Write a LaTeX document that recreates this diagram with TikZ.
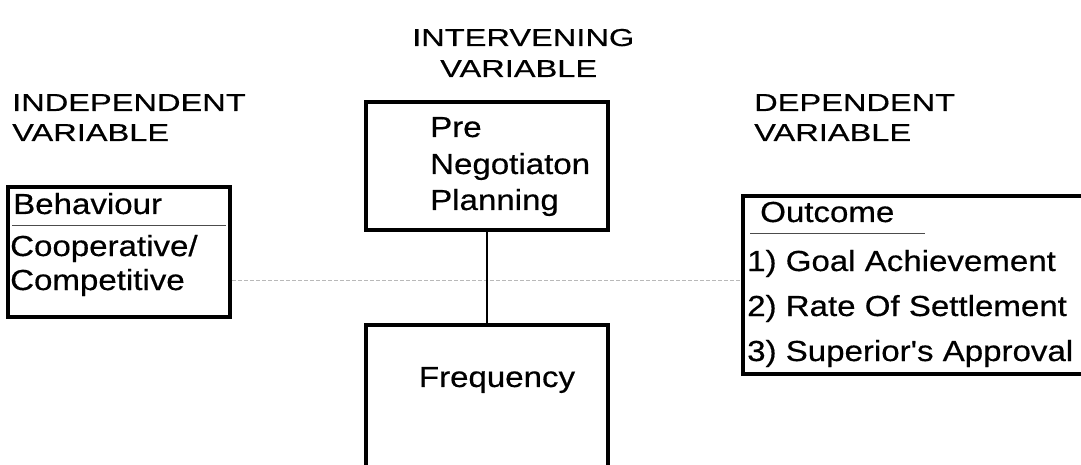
\documentclass[tikz,border=0pt]{standalone}
\usepackage{fontspec}
\setmainfont{Liberation Sans}
\newfontfamily\hdrfont[FakeStretch=1.33,FakeBold=0.4]{Liberation Sans}
\newfontfamily\bodyfont[FakeStretch=1.14,FakeBold=0.5]{Liberation Sans}
\begin{document}
\begin{tikzpicture}[x=1pt,y=-1pt,
  box/.style={draw, line width=3.5pt, inner sep=0pt},
  hdr/.style={font=\hdrfont\fontsize{24.5}{24.5}\selectfont, anchor=base west, inner sep=0pt},
  txt/.style={font=\bodyfont\fontsize{29}{29}\selectfont, anchor=base west, inner sep=0pt},
  conn/.style={line width=1.6pt},
  dotconn/.style={line width=1pt, gray!55, dash pattern=on 4pt off 2pt},
  rule/.style={line width=1pt, gray!60!black}]
\useasboundingbox (0,0) rectangle (1081,465);
\clip (0,0) rectangle (1081,465);
% headers
\node[hdr] (h1a) at (12,111) {INDEPENDENT};
\node[hdr] (h1b) at (12,141) {VARIABLE};
\node[hdr] (h2a) at (412,46) {INTERVENING};
\node[hdr] (h2b) at (440,77) {VARIABLE};
\node[hdr] (h3a) at (754,111) {DEPENDENT};
\node[hdr] (h3b) at (754,141) {VARIABLE};
% boxes
\node[box, minimum width=222pt, minimum height=130pt] (ind) at (119,252) {};
\node[box, minimum width=242pt, minimum height=128pt] (pre) at (487,166) {};
\node[box, minimum width=242pt, minimum height=200pt] (freq) at (487,425) {};
\node[box, minimum width=360pt, minimum height=178pt] (dep) at (923,285) {};
% texts
\node[txt] (t1) at (13,214) {Behaviour};
\draw[rule] (12,225) -- (226,225);
\node[txt] (t2) at (10,256) {Cooperative/};
\node[txt] (t3) at (10,290) {Competitive};
\node[txt] (t4) at (430,137) {Pre};
\node[txt] (t5) at (430,174) {Negotiaton};
\node[txt] (t6) at (430,210) {Planning};
\node[txt, anchor=center] (t7) at (497,380) {Frequency};
\node[txt] (t8) at (760,222) {Outcome};
\draw[rule] (750,233) -- (925,233);
\node[txt] (t9) at (747,271) {1) Goal Achievement};
\node[txt] (t10) at (747,316) {2) Rate Of Settlement};
\node[txt] (t11) at (747,361) {3) Superior's Approval};
% connectors
\coordinate (mid) at (487,280);
\draw[dotconn] (ind.east |- mid) -- (dep.west |- mid);
\draw[conn] (pre.south) -- (freq.north);
\end{tikzpicture}
\end{document}
